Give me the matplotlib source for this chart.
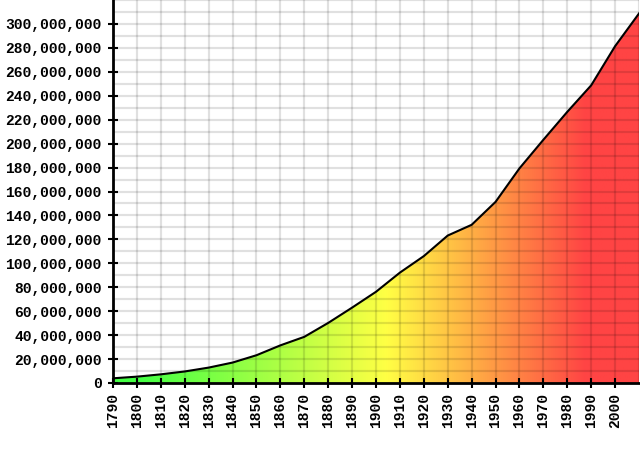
import numpy as np
import matplotlib
matplotlib.use("Agg")
import matplotlib.pyplot as plt
from matplotlib.colors import LinearSegmentedColormap
from matplotlib.ticker import FuncFormatter

years = [1790, 1800, 1810, 1820, 1830, 1840, 1850, 1860, 1870, 1880, 1890,
         1900, 1910, 1920, 1930, 1940, 1950, 1960, 1970, 1980, 1990, 2000, 2010]
population = [3929214, 5308483, 7239881, 9638453, 12866020, 17069453, 23191876,
              31443321, 38558371, 50189209, 62979766, 76212168, 92228496,
              106021537, 123202624, 132164569, 151325798, 179323175, 203211926,
              226545805, 248709873, 281421906, 308745538]
x_tick_labels = [str(y) for y in range(1790, 2001, 10)]
y_ticks = list(range(0, 300000001, 20000000))

font = "Liberation Mono"

fig = plt.figure(figsize=(6.4, 4.49), dpi=100)
ax = fig.add_axes([113/640, 66/449, 526/640, 383/449])

x0, x1 = 1790, 2010
y0, y1 = 0, 320000000
ax.set_xlim(x0, x1)
ax.set_ylim(y0, y1)

# gradient fill
cmap = LinearSegmentedColormap.from_list(
    "gyr", [(0.0, "#44ff44"), (0.05, "#44ff44"), (0.52, "#ffff44"),
            (0.9, "#ff4444"), (1.0, "#ff4444")])
grad = np.linspace(0, 1, 512).reshape(1, -1)
im = ax.imshow(grad, extent=[x0, x1, y0, y1], aspect="auto", cmap=cmap,
               origin="lower", zorder=1, interpolation="bilinear")
poly = ax.fill_between(years, population, 0, facecolor="none", edgecolor="none")
path = poly.get_paths()[0]
im.set_clip_path(path, transform=ax.transData)

ax.plot(years, population, color="black", lw=1.5, zorder=4)

# grid
for gx in range(1790, 2011, 10):
    ax.axvline(gx, color="black", alpha=0.12, lw=1.6, zorder=3)
for gy in range(10000000, 320000001, 10000000):
    ax.axhline(gy, color="black", alpha=0.12, lw=1.6, zorder=3)

ax.set_xticks(list(range(1790, 2001, 10)))
ax.set_xticklabels(x_tick_labels, rotation=90, fontfamily=font,
                   fontweight="bold", fontsize=10.5)
ax.set_yticks(y_ticks)
ax.yaxis.set_major_formatter(FuncFormatter(lambda v, p: f"{int(v):,}"))
for lab in ax.get_yticklabels():
    lab.set_fontfamily(font)
    lab.set_fontweight("bold")
    lab.set_fontsize(10.5)

ax.tick_params(axis="both", which="major", direction="inout", length=6.5,
               width=1.5, color="black", pad=4)
ax.tick_params(axis="y", pad=5)

for s in ["top", "right"]:
    ax.spines[s].set_visible(False)
for s in ["left", "bottom"]:
    ax.spines[s].set_linewidth(2)
    ax.spines[s].set_zorder(5)

fig.savefig("out.png", dpi=100)
